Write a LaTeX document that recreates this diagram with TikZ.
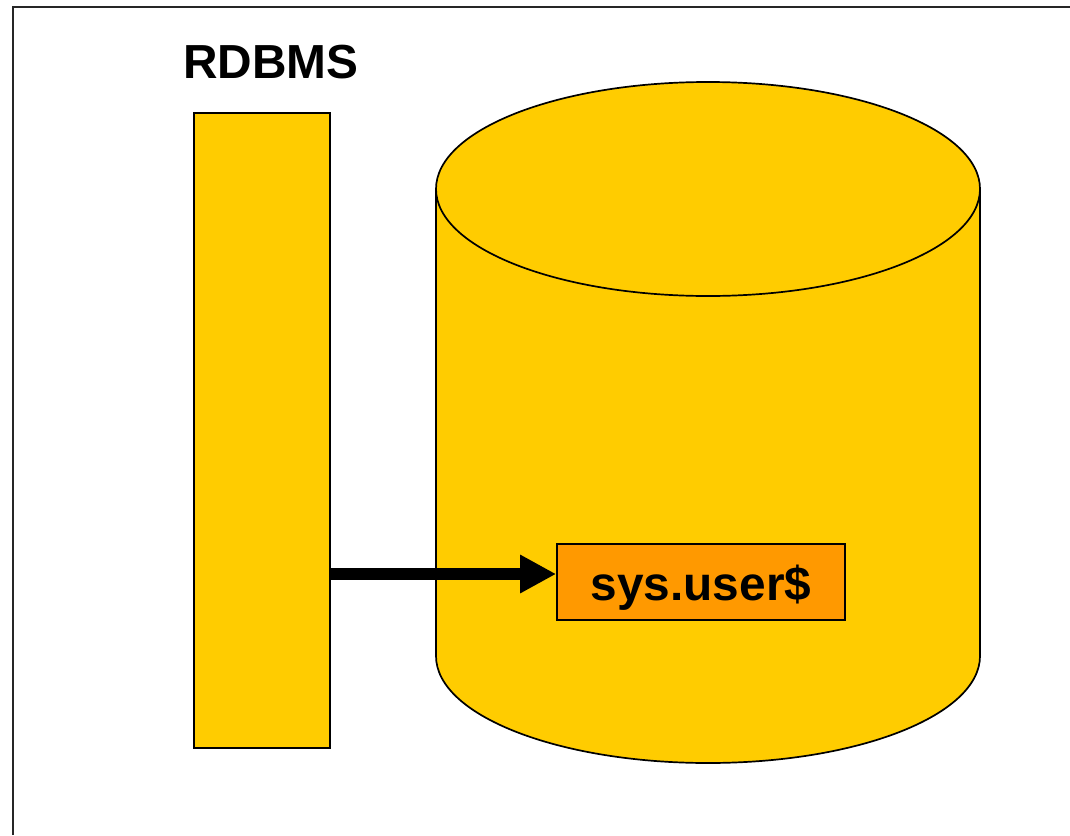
\documentclass[tikz,border=0pt]{standalone}
\usepackage{fontspec}
\setmainfont{Liberation Sans}
\usetikzlibrary{arrows.meta}
\definecolor{dbyellow}{HTML}{FFCC00}
\definecolor{tableorange}{HTML}{FF9900}
\tikzset{
  shapeline/.style={draw=black,line width=1.7pt},
  bigtext/.style={font=\fontsize{47.8pt}{50pt}\selectfont\bfseries,inner sep=0pt},
}
\begin{document}
\begin{tikzpicture}[x=1pt,y=-1pt]
    \useasboundingbox (0,0) rectangle (1070,835);
    \draw[line width=2pt,draw=black!85] (12.5,835) -- (12.5,6.5) -- (1070,6.5);

    \node (title) [bigtext,anchor=base] at (271,78) {RDBMS};
    \node (rdbms) [shapeline,fill=dbyellow,inner sep=0pt,minimum width=136pt,minimum height=635pt] at (262,430.5) {};

    % cylinder
    \draw[shapeline,fill=dbyellow] (436,189) -- (436,656) arc[x radius=272pt,y radius=107pt,start angle=180,end angle=360] -- (980,189);
    \draw[shapeline,fill=dbyellow] (708,189) ellipse [x radius=272pt,y radius=107pt];

    \node (usertable) [shapeline,fill=tableorange,bigtext,minimum width=288pt,minimum height=76pt,text height=46pt,text depth=10pt] at (701,582) {sys.user\$};

    \path[-{Triangle[length=36pt,width=36pt]},line width=12pt] (rdbms.east |- 0,574) edge ([yshift=8pt]usertable.west);
\end{tikzpicture}
\end{document}
